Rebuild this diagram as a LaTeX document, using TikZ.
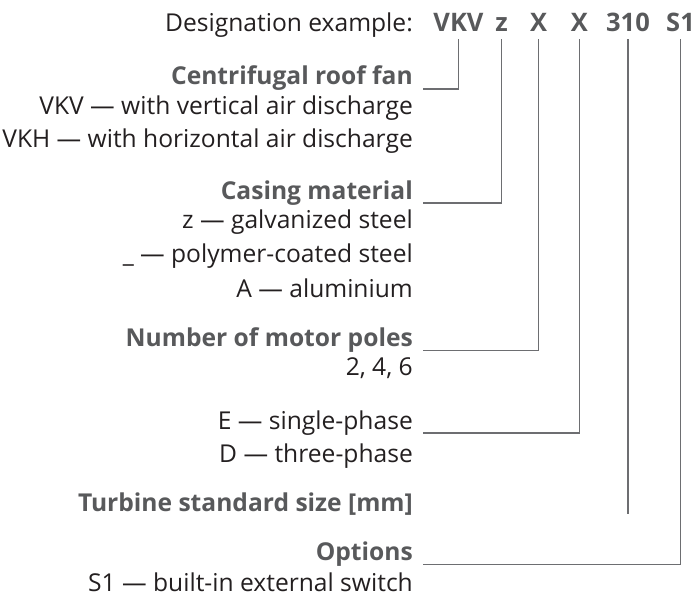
\documentclass[tikz,border=0pt]{standalone}
\usepackage{fontspec}
\setmainfont{Open Sans}
\usetikzlibrary{calc}
\definecolor{txt}{HTML}{231F20}
\definecolor{hd}{HTML}{58595B}
\definecolor{ln}{HTML}{6D6E71}
\begin{document}
\begin{tikzpicture}[x=1pt,y=-1pt,
  lbl/.style={anchor=base east, inner sep=0pt, text=txt, font=\fontsize{24.6}{28}\selectfont},
  head/.style={lbl, text=hd, font=\fontsize{24.6}{28}\selectfont\bfseries},
  code/.style={anchor=base, inner sep=0pt, text=hd, font=\fontsize{25.5}{29}\selectfont\bfseries},
  conn/.style={draw=ln, line width=1.4pt}]
\useasboundingbox (0,0) rectangle (699,607);
% top row
\node[lbl] (desig) at (413,32) {Designation example:};
\node[code] (cV) at (458.5,32) {VKV};
\node[code] (cz) at (501.7,32) {z};
\node[code] (cX1) at (538.7,32) {X};
\node[code] (cX2) at (579.4,32) {X};
\node[code] (c310) at (628,32) {310};
\node[code] (cS) at (680.5,32) {S1};
% legend
\node[head] (fan) at (413,85) {Centrifugal roof fan};
\node[lbl] (vkvd) at (413,114.5) {VKV — with vertical air discharge};
\node[lbl] (vkhd) at (413,148) {VKH — with horizontal air discharge};
\node[head] (casing) at (413,199) {Casing material};
\node[lbl] (zd) at (413,228.3) {z — galvanized steel};
\node[lbl] (pd) at (413,262) {\_ — polymer-coated steel};
\node[lbl] (ad) at (413,297) {A — aluminium};
\node[head] (poles) at (413,346.7) {Number of motor poles};
\node[lbl] (pn) at (413,375.5) {2, 4, 6};
\node[lbl] (ed) at (413,429) {E — single-phase};
\node[lbl] (dd) at (413,462) {D — three-phase};
\node[head] (turb) at (413,511) {Turbine standard size [mm]};
\node[head] (opt) at (413,560.7) {Options};
\node[lbl] (s1d) at (413,591.5) {S1 — built-in external switch};
\coordinate (tend) at ($(c310.base |- turb.base)+(0,3)$);
% connectors
\draw[conn] ($(cV.base)+(0,7.5)$) |- ($(fan.base east)+(10,4)$);
\draw[conn] ($(cz.base)+(0,7.5)$) |- ($(casing.base east)+(10,4)$);
\draw[conn] ($(cX1.base)+(0,7.5)$) |- ($(poles.base east)+(10,4)$);
\draw[conn] ($(cX2.base)+(0,7.5)$) |- ($(ed.base east)+(10,4)$);
\draw[conn] ($(c310.base)+(0,7.5)$) -- (tend);
\draw[conn] ($(cS.base)+(0,7.5)$) |- ($(opt.base east)+(10,4)$);
\end{tikzpicture}
\end{document}
